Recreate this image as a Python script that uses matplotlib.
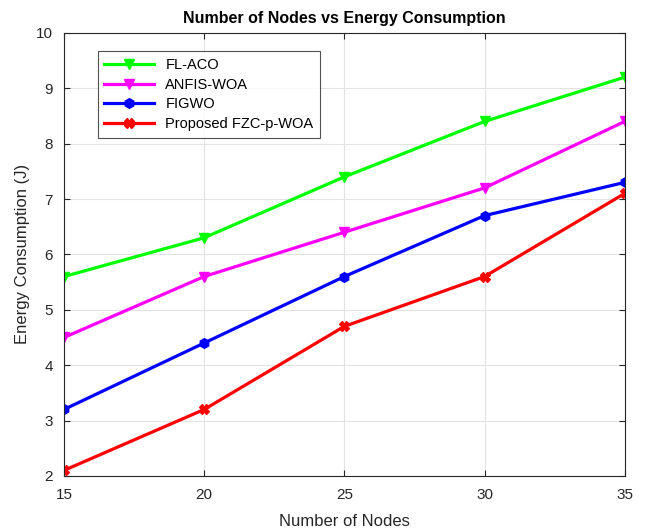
import matplotlib
matplotlib.use('Agg')
import matplotlib.pyplot as plt

nodes = [15, 20, 25, 30, 35]
fl_aco = [5.6, 6.3, 7.4, 8.4, 9.2]
anfis_woa = [4.5, 5.6, 6.4, 7.2, 8.4]
figwo = [3.2, 4.4, 5.6, 6.7, 7.3]
proposed = [2.1, 3.2, 4.7, 5.6, 7.1]

plt.rcParams['font.family'] = ['Liberation Sans', 'DejaVu Sans']

fig = plt.figure(figsize=(6.46, 5.30), dpi=100)
ax = fig.add_axes([0.099, 0.102, 0.868, 0.836])

ax.plot(nodes, fl_aco, color='#00ff00', lw=2.3, marker='v', ms=7, label='FL-ACO')
ax.plot(nodes, anfis_woa, color='#ff00ff', lw=2.3, marker='v', ms=7, label='ANFIS-WOA')
ax.plot(nodes, figwo, color='#0000ff', lw=2.3, marker='h', ms=7, label='FIGWO')
ax.plot(nodes, proposed, color='#ff0000', lw=2.3, marker='X', ms=7, label='Proposed FZC-p-WOA')

ax.set_xlim(15, 35)
ax.set_ylim(2, 10)
ax.set_xticks(nodes)
ax.set_yticks(range(2, 11))
ax.grid(True, color='#e3e3e3', lw=0.8)
ax.set_axisbelow(True)
ax.tick_params(direction='in', top=True, right=True, labelsize=11, colors='#262626', length=4)
ax.tick_params(axis='x', pad=9)
ax.tick_params(axis='y', pad=8)
for s in ax.spines.values():
    s.set_color('#262626')

ax.set_xlabel('Number of Nodes', fontsize=12, color='#262626', labelpad=8)
ax.set_ylabel('Energy Consumption (J)', fontsize=12, color='#262626', labelpad=4)
ax.set_title('Number of Nodes vs Energy Consumption', fontsize=11.5, fontweight='bold', pad=7)

leg = ax.legend(loc='upper left', bbox_to_anchor=(0.047, 0.975), fontsize=10.5,
                fancybox=False, edgecolor='#262626', handlelength=3.4,
                borderpad=0.45, labelspacing=0.4)
leg.get_frame().set_linewidth(0.8)

fig.savefig('out.png', dpi=100)
